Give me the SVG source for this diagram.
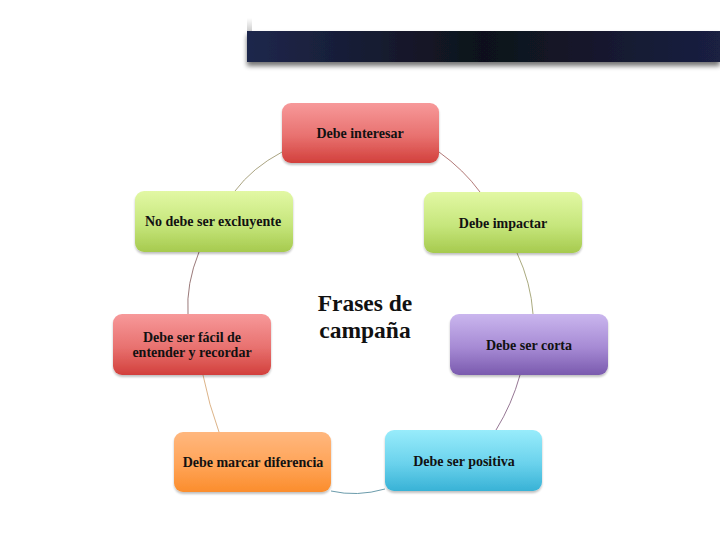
<svg xmlns="http://www.w3.org/2000/svg" width="720" height="540" viewBox="0 0 720 540">
  <defs>
    <linearGradient id="bar" x1="0" y1="0" x2="1" y2="0">
      <stop offset="0" stop-color="#1e274c"/>
      <stop offset="0.5" stop-color="#0f111a"/>
      <stop offset="1" stop-color="#1a2042"/>
    </linearGradient>
    <linearGradient id="fadeL" x1="0" y1="0" x2="0" y2="1">
      <stop offset="0" stop-color="#bdbdbd" stop-opacity="0"/>
      <stop offset="1" stop-color="#bdbdbd" stop-opacity="0.8"/>
    </linearGradient>
    <linearGradient id="gRed" x1="0" y1="0" x2="0" y2="1">
      <stop offset="0" stop-color="#f7999a"/>
      <stop offset="0.55" stop-color="#e8716f"/>
      <stop offset="1" stop-color="#d2403c"/>
    </linearGradient>
    <linearGradient id="gGreen" x1="0" y1="0" x2="0" y2="1">
      <stop offset="0" stop-color="#e2f8a4"/>
      <stop offset="0.55" stop-color="#c6e67c"/>
      <stop offset="1" stop-color="#a6ca4e"/>
    </linearGradient>
    <linearGradient id="gPurple" x1="0" y1="0" x2="0" y2="1">
      <stop offset="0" stop-color="#cab6ee"/>
      <stop offset="0.55" stop-color="#a68ad4"/>
      <stop offset="1" stop-color="#7a5aae"/>
    </linearGradient>
    <linearGradient id="gOrange" x1="0" y1="0" x2="0" y2="1">
      <stop offset="0" stop-color="#ffb77e"/>
      <stop offset="0.55" stop-color="#ffa458"/>
      <stop offset="1" stop-color="#fb8d2c"/>
    </linearGradient>
    <linearGradient id="gCyan" x1="0" y1="0" x2="0" y2="1">
      <stop offset="0" stop-color="#98ecfb"/>
      <stop offset="0.55" stop-color="#6ad2ec"/>
      <stop offset="1" stop-color="#38b2d6"/>
    </linearGradient>
    <filter id="shadow" x="-10%" y="-30%" width="120%" height="180%">
      <feGaussianBlur in="SourceAlpha" stdDeviation="2.5"/>
      <feOffset dx="0" dy="4" result="b"/>
      <feComponentTransfer><feFuncA type="linear" slope="0.55"/></feComponentTransfer>
      <feMerge><feMergeNode/><feMergeNode in="SourceGraphic"/></feMerge>
    </filter>
    <filter id="boxshadow" x="-10%" y="-10%" width="120%" height="130%">
      <feGaussianBlur in="SourceAlpha" stdDeviation="1.2"/>
      <feOffset dx="0" dy="1.5" result="b"/>
      <feComponentTransfer><feFuncA type="linear" slope="0.25"/></feComponentTransfer>
      <feMerge><feMergeNode/><feMergeNode in="SourceGraphic"/></feMerge>
    </filter>
  </defs>
  <style>
    .box { filter: url(#boxshadow); }
    .lbl { font-family: "Liberation Serif", "Times New Roman", serif; font-size: 14px; font-weight: bold; fill: #111111; text-anchor: middle; }
    .title { font-family: "Liberation Serif", "Times New Roman", serif; font-size: 23.5px; font-weight: bold; fill: #111111; text-anchor: middle; }
    .conn { fill: none; stroke-width: 0.9; }
  </style>
  <rect width="720" height="540" fill="#ffffff"/>

  <g id="header">
    <rect x="247" y="18" width="5" height="14" fill="url(#fadeL)"/>
    <rect x="247" y="31" width="473" height="31" fill="url(#bar)" filter="url(#shadow)"/>
  </g>

  <g id="connectors">
    <path class="conn" stroke="#a09a74" d="M282,152 Q252,168 235,191"/>
    <path class="conn" stroke="#a86a68" d="M439,152 Q464,170 480,192"/>
    <path class="conn" stroke="#8f6a6a" d="M199,252 Q186,284 188,314"/>
    <path class="conn" stroke="#a0a070" d="M517,253 Q531,283 533,314"/>
    <path class="conn" stroke="#d8aa7a" d="M203,375 Q209,405 219,432"/>
    <path class="conn" stroke="#8a6888" d="M520,375 Q512,404 496,430"/>
    <path class="conn" stroke="#5a90a2" stroke-width="1.2" d="M331,491 Q357,497 385,489"/>
  </g>

  <g id="node-interesar">
    <rect class="box" x="282" y="103" width="157" height="60" rx="9" fill="url(#gRed)"/>
    <text class="lbl" x="360" y="138">Debe interesar</text>
  </g>
  <g id="node-excluyente">
    <rect class="box" x="135" y="191" width="158" height="61" rx="9" fill="url(#gGreen)"/>
    <text class="lbl" x="213" y="226">No debe ser excluyente</text>
  </g>
  <g id="node-impactar">
    <rect class="box" x="424" y="192" width="158" height="61" rx="9" fill="url(#gGreen)"/>
    <text class="lbl" x="503" y="228">Debe impactar</text>
  </g>
  <g id="node-facil">
    <rect class="box" x="113" y="314" width="158" height="61" rx="9" fill="url(#gRed)"/>
    <text class="lbl" x="192" y="342">Debe ser fácil de</text>
    <text class="lbl" x="192" y="357">entender y recordar</text>
  </g>
  <g id="node-corta">
    <rect class="box" x="450" y="314" width="158" height="61" rx="9" fill="url(#gPurple)"/>
    <text class="lbl" x="529" y="350">Debe ser corta</text>
  </g>
  <g id="node-diferencia">
    <rect class="box" x="174" y="432" width="157" height="60" rx="9" fill="url(#gOrange)"/>
    <text class="lbl" x="253" y="467">Debe marcar diferencia</text>
  </g>
  <g id="node-positiva">
    <rect class="box" x="385" y="430" width="157" height="61" rx="9" fill="url(#gCyan)"/>
    <text class="lbl" x="464" y="466">Debe ser positiva</text>
  </g>

  <g id="center">
    <text class="title" x="365" y="311">Frases de</text>
    <text class="title" x="365" y="338">campaña</text>
  </g>
</svg>
